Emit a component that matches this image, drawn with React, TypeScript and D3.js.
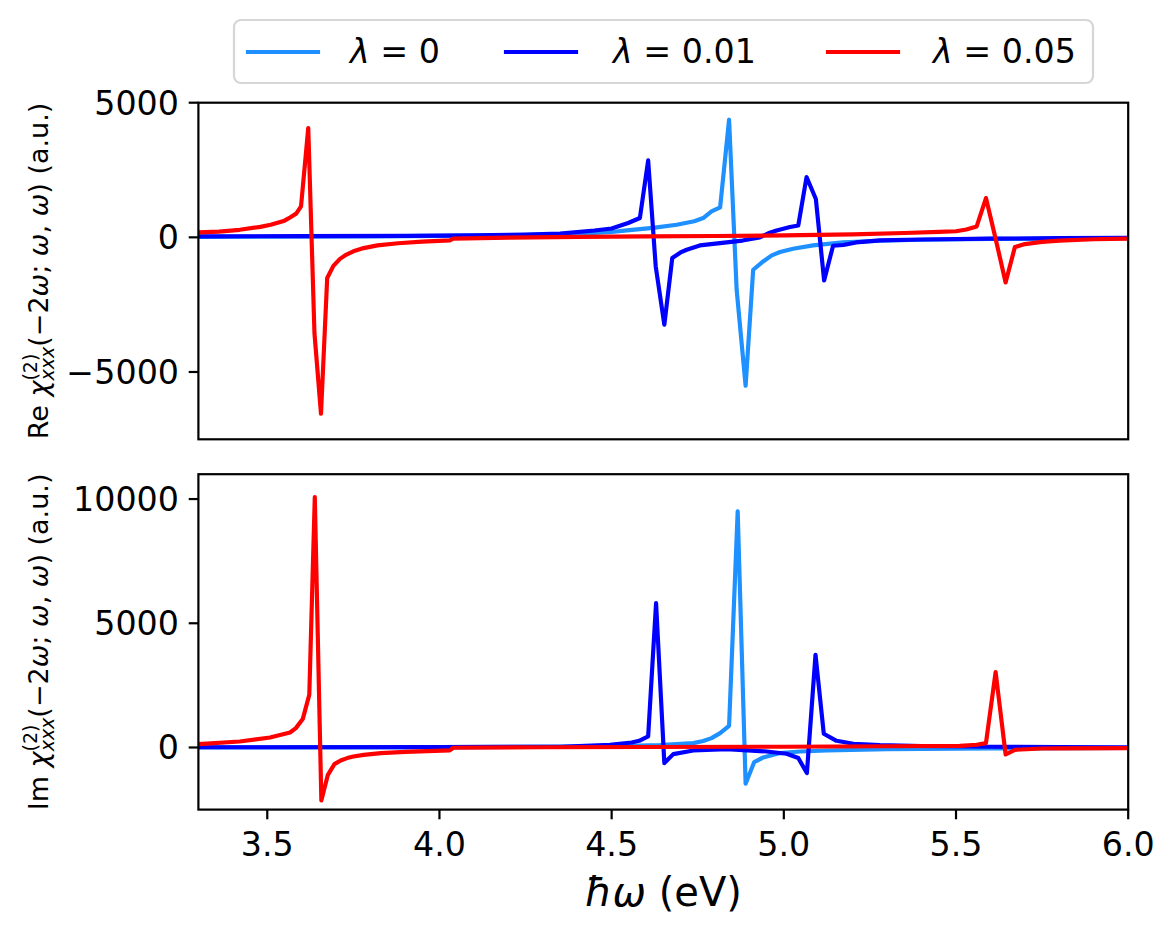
import React from 'react';
import * as d3 from 'd3';

// photon energies (eV) paired with chi^(2) values (a.u.)
const reLam0: [number, number][] = [
  [3.3, 20], [3.8, 35], [4.2, 70], [4.4, 130], [4.5, 200], [4.544, 256],
  [4.62, 350], [4.689, 468], [4.74, 600], [4.766, 717], [4.79, 962],
  [4.815, 1110], [4.841, 4368], [4.863, -1946], [4.889, -5512],
  [4.911, -1203], [4.94, -895], [4.965, -671], [4.989, -546], [5.027, -423],
  [5.085, -300], [5.172, -189], [5.279, -126], [5.4, -90], [5.6, -60],
  [5.8, -45], [6.0, -35],
];
const reLam001: [number, number][] = [
  [3.3, 35], [3.6, 45], [3.9, 55], [4.1, 75], [4.25, 100], [4.35, 136],
  [4.45, 255], [4.5, 330], [4.524, 431], [4.548, 531], [4.582, 717],
  [4.606, 2856], [4.628, -1081], [4.653, -3246], [4.676, -769], [4.7, -560],
  [4.718, -460], [4.756, -300], [4.834, -189], [4.88, -120], [4.93, 0],
  [4.955, 150], [4.979, 256], [5.018, 383], [5.042, 442], [5.066, 2240],
  [5.093, 1422], [5.117, -1601], [5.143, -312], [5.173, -286], [5.21, -189],
  [5.279, -115], [5.4, -80], [5.6, -50], [5.8, -30], [6.0, -20],
];
const reLam005: [number, number][] = [
  [3.3, 182], [3.36, 215], [3.42, 280], [3.48, 390], [3.51, 468],
  [3.55, 620], [3.566, 739], [3.584, 880], [3.598, 1148], [3.619, 4060],
  [3.637, -3554], [3.656, -6551], [3.674, -1512], [3.692, -1060],
  [3.711, -800], [3.73, -640], [3.75, -520], [3.78, -400], [3.82, -300],
  [3.88, -220], [3.95, -160], [4.03, -110], [4.04, -45], [4.2, -10],
  [4.4, 20], [4.6, 35], [4.8, 50], [5.0, 70], [5.2, 110], [5.35, 160],
  [5.45, 200], [5.5, 225], [5.53, 290], [5.56, 405], [5.587, 1460],
  [5.615, -50], [5.644, -1675], [5.671, -360], [5.7, -250], [5.75, -170],
  [5.8, -120], [5.9, -70], [6.0, -45],
];

const imLam0: [number, number][] = [
  [3.3, 5], [4.0, 15], [4.4, 40], [4.55, 70], [4.64, 97], [4.737, 177],
  [4.766, 260], [4.79, 378], [4.815, 579], [4.841, 873], [4.866, 9501],
  [4.889, -1461], [4.914, -587], [4.94, -402], [4.989, -225], [5.047, -161],
  [5.124, -121], [5.3, -70], [5.6, -40], [6.0, -20],
];
const imLam001: [number, number][] = [
  [3.3, 10], [4.0, 15], [4.35, 30], [4.495, 109], [4.558, 201], [4.58, 270],
  [4.606, 443], [4.629, 5813], [4.653, -628], [4.679, -266], [4.737, -121],
  [4.834, -64], [4.95, -161], [5.008, -253], [5.042, -426], [5.067, -1030],
  [5.092, 3732], [5.116, 552], [5.153, 269], [5.202, 149], [5.279, 97],
  [5.4, 60], [5.6, 30], [5.8, 15], [6.0, 10],
];
const imLam005: [number, number][] = [
  [3.3, 137], [3.42, 241], [3.508, 402], [3.566, 603], [3.583, 780],
  [3.603, 1143], [3.622, 2122], [3.638, 10081], [3.657, -2134],
  [3.676, -1099], [3.695, -670], [3.713, -523], [3.732, -427], [3.75, -362],
  [3.78, -295], [3.83, -228], [3.9, -175], [4.03, -115], [4.04, -10],
  [4.3, 10], [4.6, 20], [5.0, 30], [5.3, 50], [5.511, 68], [5.56, 110],
  [5.587, 177], [5.615, 3036], [5.644, -282], [5.671, -93], [5.75, -40],
  [5.8, -35], [6.0, -25],
];

const seriesLabels = ['0', '0.01', '0.05'];
const seriesColors = ['#1e90ff', '#0000ff', '#ff0000'];

const xTicks = [3.5, 4.0, 4.5, 5.0, 5.5, 6.0];
const reTicks = [-5000, 0, 5000];
const imTicks = [0, 5000, 10000];

const W = 1176;
const H = 935;
const FONT = 'DejaVu Sans, Verdana, sans-serif';
const TICK_FS = 33.3;
const LW = 4.17;
const AX_LW = 2.2;
const TICK_LEN = 9.7;

const x = d3.scaleLinear().domain([3.3, 6.0]).range([198.4, 1128.2]);
const yRe = d3.scaleLinear().domain([-7500, 5000]).range([439.3, 102.7]);
const yIm = d3.scaleLinear().domain([-2500, 11000]).range([809.6, 474.2]);

const fmtY = (v: number) => d3.format('d')(v).replace('-', '\u2212');
const fmtX = d3.format('.1f');

interface PanelProps {
  id: string;
  y: d3.ScaleLinear<number, number>;
  series: [number, number][][];
  ticks: number[];
  showX: boolean;
  kind: string;
}

const Panel: React.FC<PanelProps> = ({ id, y, series, ticks, showX, kind }) => {
  const [x0, x1] = x.range();
  const [yb, yt] = y.range();
  const line = d3
    .line<[number, number]>()
    .x((d) => x(d[0]))
    .y((d) => y(d[1]));
  const cy = (yb + yt) / 2;
  return (
    <g>
      <defs>
        <clipPath id={id}>
          <rect x={x0} y={yt} width={x1 - x0} height={yb - yt} />
        </clipPath>
      </defs>
      <g clipPath={`url(#${id})`}>
        {series.map((s, i) => (
          <path
            key={i}
            d={line(s) || ''}
            fill="none"
            stroke={seriesColors[i]}
            strokeWidth={LW}
            strokeLinejoin="round"
          />
        ))}
      </g>
      <rect
        x={x0}
        y={yt}
        width={x1 - x0}
        height={yb - yt}
        fill="none"
        stroke="#000"
        strokeWidth={AX_LW}
      />
      {ticks.map((t) => (
        <g key={t}>
          <line
            x1={x0 - TICK_LEN}
            x2={x0}
            y1={y(t)}
            y2={y(t)}
            stroke="#000"
            strokeWidth={AX_LW}
          />
          <text
            x={x0 - TICK_LEN - 9.7}
            y={y(t) + 12}
            textAnchor="end"
            fontSize={TICK_FS}
          >
            {fmtY(t)}
          </text>
        </g>
      ))}
      {showX &&
        xTicks.map((t) => (
          <g key={t}>
            <line
              x1={x(t)}
              x2={x(t)}
              y1={yb}
              y2={yb + TICK_LEN}
              stroke="#000"
              strokeWidth={AX_LW}
            />
            <text x={x(t)} y={856} textAnchor="middle" fontSize={TICK_FS}>
              {fmtX(t)}
            </text>
          </g>
        ))}
      <text
        transform={`translate(48,${cy}) rotate(-90)`}
        textAnchor="middle"
        fontSize={27}
      >
        <tspan>{kind} </tspan>
        <tspan fontStyle="italic">χ</tspan>
        <tspan fontSize={19} dy={-11}>(2)</tspan>
        <tspan fontSize={19} fontStyle="italic" dx={-26.9} dy={17}>
          xxx
        </tspan>
        <tspan dy={-6}>(−2</tspan>
        <tspan fontStyle="italic">ω</tspan>
        <tspan>; </tspan>
        <tspan fontStyle="italic">ω</tspan>
        <tspan>, </tspan>
        <tspan fontStyle="italic">ω</tspan>
        <tspan>) (a.u.)</tspan>
      </text>
    </g>
  );
};

const Legend: React.FC = () => {
  const handleX = [248, 506, 828];
  const textX = [350, 613, 933];
  return (
    <g>
      <rect
        x={234}
        y={20}
        width={859}
        height={63}
        rx={7}
        fill="#fff"
        stroke="#d6d6d6"
        strokeWidth={AX_LW}
      />
      {seriesLabels.map((lab, i) => (
        <g key={lab}>
          <line
            x1={handleX[i]}
            x2={handleX[i] + 70}
            y1={52}
            y2={52}
            stroke={seriesColors[i]}
            strokeWidth={LW}
            strokeLinecap="square"
          />
          <text x={textX[i]} y={63} fontSize={TICK_FS}>
            <tspan fontStyle="italic">λ</tspan>
            <tspan> = {lab}</tspan>
          </text>
        </g>
      ))}
    </g>
  );
};

export default function App() {
  return (
    <div style={{ position: 'absolute', left: 0, top: 0 }}>
      <svg width={W} height={H} fontFamily={FONT} style={{ display: 'block' }}>
        <rect width={W} height={H} fill="#fff" />
        <Panel
          id="clipRe"
          y={yRe}
          series={[reLam0, reLam001, reLam005]}
          ticks={reTicks}
          showX={false}
          kind="Re"
        />
        <Panel
          id="clipIm"
          y={yIm}
          series={[imLam0, imLam001, imLam005]}
          ticks={imTicks}
          showX={true}
          kind="Im"
        />
        <text x={x(4.65)} y={906} textAnchor="middle" fontSize={40}>
          <tspan fontStyle="italic">ħω</tspan>
          <tspan> (eV)</tspan>
        </text>
        <Legend />
      </svg>
    </div>
  );
}
